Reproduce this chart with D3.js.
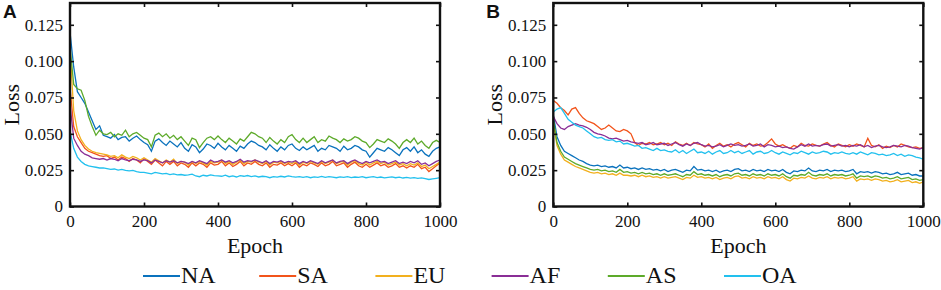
<!DOCTYPE html>
<html lang="en">
  <head>
    <meta charset="UTF-8" />
    <title>Loss vs Epoch by region</title>
    <script src="https://d3js.org/d3.v7.min.js"></script>
    <style>
      body {
        margin: 0;
        background: #fff;
      }
      .tick line {
        stroke: #111;
        stroke-width: 1.6;
      }
      .domain {
        stroke: none;
      }
      .line {
        fill: none;
        stroke-width: 1.3;
      }
    </style>
  </head>
  <body>
    <svg width="941" height="290" id="chart"></svg>

    <script>
      const SERIF = "Liberation Serif";

      // epochs sampled every 10 (loss values below are in units of 1e-3)
      const epochs = d3.range(0, 1001, 10);
      const regions = ["NA", "SA", "EU", "AF", "AS", "OA"];
      const xTicks = [0, 200, 400, 600, 800, 1000];
      const yTicks = [0, 0.025, 0.05, 0.075, 0.1, 0.125];
      const yTickLabels = ["0", "0.025", "0.050", "0.075", "0.100", "0.125"];

      // panel A
      const aNA = [120,
        96, 79, 75, 71, 65, 59, 53, 55.5, 49, 48,
        47, 49.5, 46, 47.5, 48, 45, 47, 48.5, 46, 44,
        42.5, 38, 45, 46.5, 44, 42, 45, 43, 41, 44,
        40, 38, 42.5, 41, 37, 39.5, 43, 42, 40, 43.5,
        41, 39, 42, 40, 38, 41.5, 40, 43, 45, 44,
        42, 41, 39, 42.5, 40, 38, 41, 39, 42, 43,
        40, 38.5, 41, 39, 40.5, 42, 38, 40, 39, 42,
        41, 40, 38, 41.5, 39, 40, 42, 41, 39, 38,
        34, 37, 40, 39, 38, 40.5, 39, 37, 35, 39,
        40.5, 38, 41, 37, 39, 36, 34.5, 38, 40, 41];
      const aSA = [82,
        55, 48, 44, 40, 38, 37, 36, 35, 34.5, 35,
        33, 34, 32, 34, 33, 31, 33, 32, 30, 33,
        31, 29, 32, 30, 28, 31, 29, 31, 28, 30,
        29, 27, 30, 28, 30, 29, 27, 30, 28.5, 29,
        31, 28, 30, 27.5, 29, 31, 28, 30, 29, 31,
        29, 28, 30, 27, 29, 28.5, 30, 28, 29.5, 28,
        30, 27, 29, 28, 30, 29, 27.5, 30, 28, 29,
        31, 28, 29, 30, 27, 29, 30.5, 28, 27, 29,
        27, 28.5, 30, 28, 29, 27, 28, 29.5, 27, 28,
        26.5, 28, 27, 29, 26, 27, 24, 26, 28, 30];
      const aEU = [108,
        66, 52, 46, 42, 39.5, 38, 37, 36.5, 36, 35.5,
        34.5, 35, 33.5, 35.5, 34, 33, 34.5, 33.5, 32, 33.5,
        32, 30.5, 33, 31.5, 30, 32, 30.5, 32.5, 29.5, 31,
        30.5, 28.5, 31, 29.5, 31, 30, 28.5, 31, 30, 30.5,
        32, 29.5, 31, 29, 30.5, 32, 29.5, 31, 30.5, 32,
        30.5, 29.5, 31, 28.5, 30.5, 30, 31, 29.5, 30.5, 29.5,
        31, 28.5, 30.5, 29.5, 31, 30, 29, 31, 29.5, 30.5,
        32, 29.5, 30.5, 31, 28.5, 30.5, 31.5, 29.5, 28.5, 30.5,
        28.5, 30, 31, 29.5, 30.5, 28.5, 29.5, 30.5, 28.5, 29.5,
        28, 29.5, 28.5, 30, 27.5, 28.5, 26, 27.5, 29, 30.5];
      const aAF = [70,
        47, 42, 38, 36, 35, 33.5, 33, 32.5, 33, 32,
        33, 32.5, 31.5, 33, 32, 31.5, 32.5, 32, 31, 32,
        31.5, 30, 32, 31, 30, 31.5, 30.5, 31.5, 30, 31,
        30.5, 29.5, 31, 30, 31.5, 30.5, 29.5, 32, 30.5, 31,
        32, 30.5, 31.5, 30, 31, 32.5, 30.5, 31.5, 31, 32,
        31, 30, 31.5, 29.5, 31, 30.5, 31.5, 30, 31, 30.5,
        31.5, 29.5, 31, 30, 31.5, 30.5, 29.5, 31.5, 30, 31,
        32, 30, 31, 31.5, 29.5, 31, 32, 30.5, 29.5, 31,
        30, 31, 32, 30.5, 31, 29.5, 30.5, 31.5, 29.5, 30.5,
        29.5, 31, 30, 31.5, 29, 30, 28, 29.5, 31, 32];
      const aAS = [110,
        84, 81, 80, 73, 62, 55, 49, 52.5, 50, 49.5,
        51, 48, 50, 49, 52.5, 48, 50, 51, 49, 47,
        46, 41, 49, 50.5, 48, 50, 47, 49, 46, 48,
        45, 42, 47, 46, 40.5, 44, 47, 48, 46, 48.5,
        46, 44, 47, 45, 43, 46.5, 45, 48, 51, 50,
        48, 47, 44, 47.5, 45, 43, 46, 44, 48, 49.5,
        46, 44, 47, 44, 46, 48, 44, 46, 45, 48.5,
        47, 46, 44, 46.5, 45, 46, 48, 47, 45, 44,
        40.5, 43, 46, 45, 44, 46.5, 45, 43, 40, 44,
        46, 44, 47, 43, 45, 42, 40, 44, 45.5, 44];
      const aOA = [52,
        40, 34, 31, 29, 28, 27.5, 27, 26.5, 26.5, 26,
        25.5, 25.8, 25, 25.5, 24.8, 24.5, 24.8, 24, 23.5, 23.5,
        23, 22.5, 23.5, 23, 22.5, 22.8, 22, 22.5, 21.8, 22,
        21.5, 21.8, 22.3, 21, 20.5, 21.5, 21, 21.8, 21.2, 21,
        20.8, 21.5, 20.5, 21, 20.3, 21.2, 20.8, 21.3, 20.5, 21,
        20.3, 20.8, 20.5, 19.8, 20.6, 20.2, 20.8, 20.3, 21, 20.5,
        20.2, 20.6, 20, 20.5, 19.8, 20.4, 20.1, 20.7, 20, 20.5,
        20.2, 19.8, 20.4, 20, 20.6, 19.9, 20.3, 20, 20.5, 19.8,
        20.2, 20.6, 19.9, 20.3, 19.7, 20.1, 20.4, 19.8, 20.2, 19.6,
        20, 19.5, 19.9, 19.4, 19.7, 19.2, 18.6, 19, 19.4, 19.8];

      // panel B
      const bNA = [63,
        48, 42, 38, 36.5, 35, 33.5, 32, 31, 29.5, 28.5,
        28, 28.5, 27.5, 28, 27, 27.5, 26.5, 28.5, 26.5, 27,
        26, 26.5, 25.5, 26.5, 25.5, 26, 25, 25.5, 24.5, 25.5,
        24, 25, 25.5, 24.5, 23.5, 25, 24.5, 27.5, 25, 25.5,
        24.5, 25, 24, 25, 23.5, 24.5, 25, 24, 25.5, 26,
        24.5, 25, 24, 25.5, 24.5, 25, 24, 25.5, 24.5, 25,
        24, 25.5, 23.5, 22.5, 24.5, 24, 25, 24.5, 26.5, 24.5,
        24, 25, 24.5, 25.5, 24, 25, 24.5, 25, 24, 24.5,
        25.5, 22.5, 24, 23.5, 24, 23, 24, 23.5, 22.5, 23,
        22, 22.5, 23.5, 22, 22.5, 23, 21.5, 22, 21, 21];
      const bSA = [73,
        71, 68, 66, 63, 67, 68, 64, 61, 59, 58,
        57, 55, 53, 54, 56, 54, 52, 51.5, 53, 52,
        50, 44, 42, 43.5, 43, 44, 42.5, 43, 44, 42.5,
        43.5, 42, 44.5, 43, 42, 43.5, 42, 44, 43, 42.5,
        41, 43, 40, 42, 43.5, 41.5, 42.5, 41, 43, 44,
        42.5, 41, 43.5, 42, 43, 41.5, 42, 44, 46.5, 43,
        41.5, 42.5, 41, 40, 42, 41, 43.5, 42, 41.5, 43,
        42, 41.5, 43, 44, 42, 41, 43, 42, 41, 42.5,
        41.5, 43, 42, 41, 47, 42, 41, 42.5, 40, 41.5,
        40.5, 42, 41, 43, 42, 41, 40.5, 41, 40, 40.5];
      const bEU = [58,
        42, 36, 32, 30.5, 29, 27.5, 26.5, 25.5, 24.5, 23.5,
        23, 23.5, 22.5, 23, 22, 22.5, 21.5, 23, 21.5, 21.5,
        21, 21.5, 20.5, 21.5, 20.5, 21, 20, 20.5, 19.5, 20.5,
        19.5, 20, 20.5, 19.5, 18.5, 20, 19.5, 21.5, 20, 20.5,
        19.5, 20, 19, 20, 18.5, 19.5, 20, 19, 20.5, 21,
        19.5, 20, 19, 20.5, 19.5, 20, 19, 20.5, 19.5, 20,
        19, 20.5, 18.5, 17.5, 19.5, 19, 20, 19.5, 21, 19.5,
        19, 20, 19.5, 20.5, 19, 20, 19.5, 20, 19, 19.5,
        20.5, 17.5, 19, 18.5, 19, 18, 19, 18.5, 17.5, 18,
        17, 17.5, 18.5, 17, 17.5, 18, 16.5, 17, 16, 17];
      const bAF = [62,
        57, 54, 53, 55, 56, 57, 56, 55.5, 54.5, 53,
        51, 50, 49.5, 48.5, 47, 46.5, 47, 46, 45, 45.5,
        44.5, 44, 43.5, 44, 42.5, 43, 44, 42.5, 43, 43.5,
        42, 43, 44, 42.5, 41.5, 43, 42, 43.5, 44, 42.5,
        41.5, 42, 41, 41.5, 42.5, 41, 42, 43, 42, 42.5,
        41.5, 42, 43, 41.5, 42, 43, 41, 42.5, 42, 41,
        41.5, 40.5, 41, 40, 39.5, 41, 42.5, 41.5, 43, 41.5,
        42, 41.5, 42.5, 43, 41.5, 42, 42.5, 41.5, 42, 41,
        42, 41.5, 42.5, 41, 42, 40.5, 41.5, 42, 41, 40.5,
        41, 42, 41.5, 41, 42, 41.5, 40.5, 40, 39.5, 40.5];
      const bAS = [60,
        44, 38, 34, 32.5, 31, 29.5, 28.5, 27.5, 26.5, 25.5,
        25, 25.5, 24.5, 25, 24, 24.5, 23.5, 25.5, 23.5, 24,
        23, 23.5, 22.5, 23.5, 22.5, 23, 22, 22.5, 21.5, 22.5,
        21.5, 22, 22.5, 21.5, 20.5, 22, 21.5, 24, 22, 22.5,
        21.5, 22, 21, 22, 20.5, 21.5, 22, 21, 22.5, 23,
        21.5, 22, 21, 22.5, 21.5, 22, 21, 22.5, 21.5, 22,
        21, 22.5, 20.5, 19.5, 21.5, 21, 22, 21.5, 23.5, 21.5,
        21, 22, 21.5, 22.5, 21, 22, 21.5, 22, 21, 21.5,
        22.5, 19.5, 21, 20.5, 21, 20, 21, 20.5, 19.5, 20,
        19, 19.5, 20.5, 19, 19.5, 20, 18.5, 19, 18, 18.5];
      const bOA = [65,
        67, 68, 64, 60, 58, 56, 55, 54, 52, 50,
        48, 47, 47.5, 46, 45.5, 46, 44.5, 45, 43, 43.5,
        42.5, 41.5, 42, 40, 40.5, 39.5, 38.5, 40, 38.5, 39,
        38, 37.5, 39, 37, 38.5, 36.5, 38, 39.5, 37, 37.5,
        36.5, 38, 36, 37.5, 38.5, 36.5, 37, 38.5, 37, 38,
        36.5, 37.5, 38.5, 36, 37.5, 38, 36.5, 37, 38.5, 37,
        36, 37.5, 36.5, 35.5, 37, 36.5, 38, 37, 36, 37.5,
        36.5, 37, 38, 37.5, 36, 37, 36.5, 37.5, 36.5, 36,
        37, 36, 37.5, 36.5, 35.5, 37, 36.5, 35.5, 36, 35,
        35.5, 36.5, 35, 36, 34.5, 35.5, 35, 34, 33.5, 32.5];

      const panels = [
        { label: "A", series: [aNA, aSA, aEU, aAF, aAS, aOA], left: 70 },
        { label: "B", series: [bNA, bSA, bEU, bAF, bAS, bOA], left: 553.3 },
      ];

      const color = d3
        .scaleOrdinal()
        .domain(regions)
        .range(["#0A72BD", "#F2541B", "#F2B01E", "#8A2E96", "#5DAA2A", "#22C0EE"]);

      const svg = d3.select("#chart");
      const plotW = 370;
      const plotTop = 3;
      const plotBottom = 206.5;

      const yScale = d3.scaleLinear().domain([0, 0.14]).range([plotBottom, plotTop]);

      panels.forEach((p) => {
        const xScale = d3
          .scaleLinear()
          .domain([0, 1000])
          .range([p.left, p.left + plotW]);

        const lineGen = d3
          .line()
          .x((d, i) => xScale(epochs[i]))
          .y((d) => yScale(d / 1000));

        // lines
        p.series.forEach((vals, i) => {
          svg
            .append("path")
            .datum(vals)
            .attr("class", "line")
            .attr("stroke", color(regions[i]))
            .attr("d", lineGen);
        });

        // axes with inward ticks
        const yAxis = d3
          .axisLeft(yScale)
          .tickValues(yTicks)
          .tickSize(-4)
          .tickPadding(7)
          .tickFormat((d, i) => yTickLabels[i]);
        svg
          .append("g")
          .attr("transform", `translate(${p.left},0)`)
          .call(yAxis)
          .attr("font-family", SERIF)
          .attr("font-size", 17)
          .selectAll("text")
          .attr("fill", "#111");

        svg
          .append("g")
          .attr("transform", `translate(${p.left + plotW},0)`)
          .call(d3.axisRight(yScale).tickValues(yTicks).tickSize(-4).tickFormat(""));

        const xAxis = d3
          .axisBottom(xScale)
          .tickValues(xTicks)
          .tickSize(-4)
          .tickPadding(8)
          .tickFormat(d3.format("d"));
        svg
          .append("g")
          .attr("transform", `translate(0,${plotBottom})`)
          .call(xAxis)
          .attr("font-family", SERIF)
          .attr("font-size", 17)
          .selectAll("text")
          .attr("fill", "#111");

        svg
          .append("g")
          .attr("transform", `translate(0,${plotTop})`)
          .call(d3.axisTop(xScale).tickValues(xTicks).tickSize(-4).tickFormat(""));

        // frame
        svg
          .append("rect")
          .attr("x", p.left)
          .attr("y", plotTop)
          .attr("width", plotW)
          .attr("height", plotBottom - plotTop)
          .attr("fill", "none")
          .attr("stroke", "#111")
          .attr("stroke-width", 2.4);

        // axis titles
        svg
          .append("text")
          .attr("x", p.left + plotW / 2)
          .attr("y", 253)
          .attr("text-anchor", "middle")
          .attr("font-family", SERIF)
          .attr("font-size", 22)
          .attr("fill", "#111")
          .text("Epoch");

        svg
          .append("text")
          .attr("transform", `translate(${p.left - 51},${(plotTop + plotBottom) / 2}) rotate(-90)`)
          .attr("text-anchor", "middle")
          .attr("font-family", SERIF)
          .attr("font-size", 22)
          .attr("fill", "#111")
          .text("Loss");

        // panel letter
        svg
          .append("text")
          .attr("x", p.left - 67)
          .attr("y", 18)
          .attr("font-family", "Liberation Sans")
          .attr("font-weight", "bold")
          .attr("font-size", 19)
          .attr("fill", "#111")
          .text(p.label);
      });

      // legend
      const legendX = d3.scalePoint().domain(regions).range([143, 724]);
      regions.forEach((r) => {
        svg
          .append("line")
          .attr("x1", legendX(r))
          .attr("x2", legendX(r) + 37)
          .attr("y1", 276)
          .attr("y2", 276)
          .attr("stroke", color(r))
          .attr("stroke-width", 2);
        svg
          .append("text")
          .attr("x", legendX(r) + 38)
          .attr("y", 283)
          .attr("font-family", SERIF)
          .attr("font-size", 24)
          .attr("fill", "#111")
          .text(r);
      });
    </script>
  </body>
</html>
